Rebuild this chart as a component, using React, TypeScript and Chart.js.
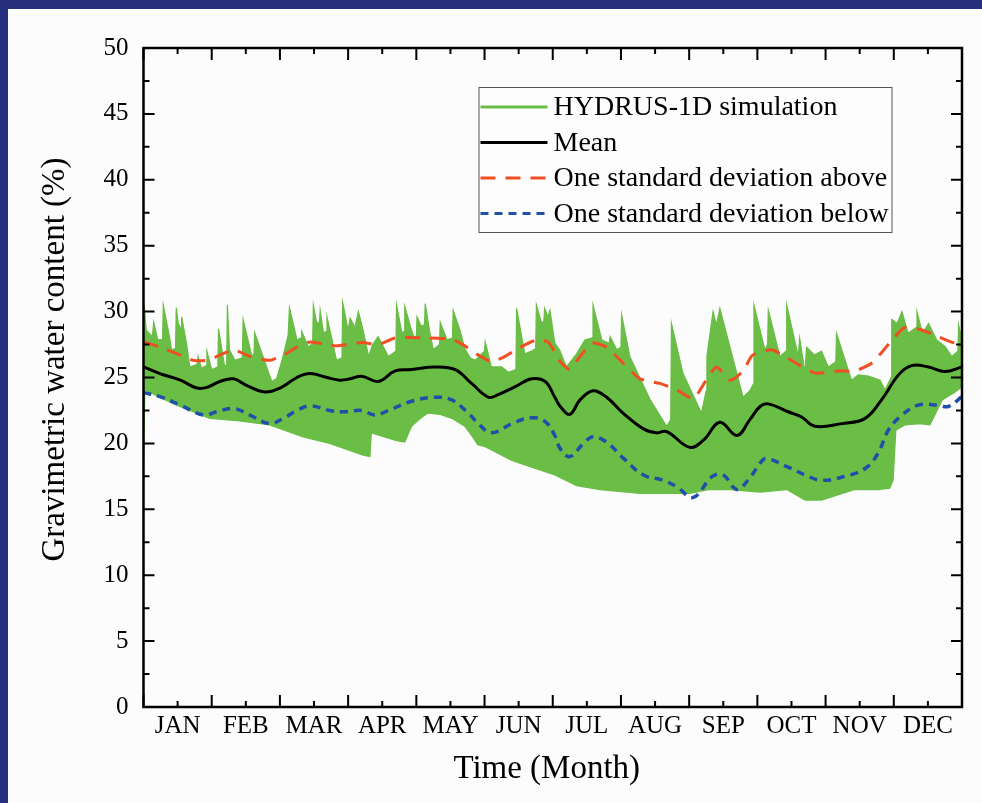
import React, { useEffect, useRef } from 'react';
import { Chart, registerables } from 'chart.js';

Chart.register(...registerables);

const FONT = "'Liberation Serif', 'Times New Roman', serif";

const monthLabels = ['JAN', 'FEB', 'MAR', 'APR', 'MAY', 'JUN', 'JUL', 'AUG', 'SEP', 'OCT', 'NOV', 'DEC'];

// x = month (0 = 1 Jan, 12 = 31 Dec), y = gravimetric water content (%)
const simUpper: [number, number][] = [
  [0.00, 29.1], [0.01, 30.5], [0.04, 28.6], [0.13, 28.1], [0.15, 29.2], [0.21, 27.85], [0.28, 27.9], [0.29, 30.5],
  [0.39, 27.85], [0.41, 27.1], [0.47, 27.2], [0.48, 30.3], [0.51, 29.1], [0.55, 28.7], [0.56, 29.6], [0.63, 27.6],
  [0.68, 25.8], [0.79, 26.0], [0.80, 26.6], [0.85, 25.7], [0.92, 25.9], [0.93, 27.0], [1.00, 25.6], [1.09, 25.8],
  [1.10, 28.7], [1.19, 25.8], [1.22, 26.0], [1.23, 30.5], [1.26, 27.1], [1.34, 26.3], [1.45, 26.5], [1.46, 29.4],
  [1.59, 26.6], [1.62, 26.8], [1.63, 28.4], [1.88, 24.7], [1.95, 24.9], [2.03, 26.3], [2.12, 28.2], [2.14, 30.3],
  [2.25, 27.85], [2.31, 28.0], [2.32, 28.5], [2.42, 27.3], [2.48, 27.6], [2.49, 30.5], [2.54, 29.1], [2.58, 29.2],
  [2.59, 30.1], [2.64, 28.35], [2.68, 28.5], [2.69, 29.6], [2.83, 26.3], [2.91, 26.5], [2.92, 30.7], [3.00, 28.6],
  [3.03, 29.5], [3.10, 28.8], [3.15, 30.0], [3.22, 28.6], [3.30, 26.6], [3.36, 27.5], [3.44, 28.1], [3.52, 27.3],
  [3.59, 26.6], [3.70, 27.0], [3.71, 30.5], [3.79, 28.35], [3.82, 28.5], [3.83, 30.4], [3.93, 28.6], [3.98, 27.85],
  [4.00, 28.2], [4.01, 29.6], [4.07, 28.9], [4.12, 29.0], [4.13, 30.6], [4.20, 28.35], [4.25, 27.1], [4.34, 27.5],
  [4.35, 29.2], [4.45, 27.85], [4.53, 28.0], [4.54, 30.1], [4.64, 28.6], [4.71, 27.2], [4.79, 26.5], [4.86, 26.3],
  [5.00, 27.0], [5.01, 27.7], [5.10, 25.8], [5.25, 25.8], [5.35, 25.4], [5.46, 25.6], [5.47, 30.25], [5.59, 26.8],
  [5.69, 27.0], [5.75, 27.2], [5.76, 30.5], [5.84, 29.1], [5.87, 29.3], [5.88, 30.25], [5.93, 29.6], [5.96, 30.1],
  [6.03, 27.6], [6.10, 27.1], [6.20, 25.8], [6.35, 26.8], [6.47, 27.85], [6.58, 28.0], [6.59, 30.5], [6.72, 27.85],
  [6.83, 27.6], [6.84, 28.1], [6.94, 27.1], [7.00, 27.3], [7.01, 29.75], [7.13, 26.6], [7.43, 23.3], [7.67, 21.3],
  [7.73, 21.8], [7.74, 29.1], [7.91, 25.3], [8.18, 22.3], [8.25, 24.0], [8.26, 26.6], [8.35, 30.0], [8.40, 29.0],
  [8.45, 30.25], [8.79, 23.5], [8.89, 24.0], [8.94, 24.5], [8.95, 30.5], [9.11, 27.1], [9.15, 27.5], [9.16, 30.1],
  [9.33, 26.6], [9.42, 27.0], [9.43, 30.5], [9.60, 26.6], [9.62, 28.0], [9.70, 25.3], [9.72, 27.3], [9.84, 26.7],
  [9.94, 27.0], [10.04, 25.8], [10.15, 26.2], [10.16, 28.35], [10.38, 24.8], [10.48, 25.2], [10.63, 25.1], [10.80, 24.8],
  [10.87, 24.05], [10.96, 25.0], [10.97, 29.4], [11.05, 29.1], [11.12, 30.0], [11.21, 28.35], [11.33, 28.8], [11.34, 30.0],
  [11.42, 28.35], [11.51, 29.1], [11.63, 27.85], [11.75, 27.35], [11.85, 26.6], [11.94, 27.0], [11.95, 29.0], [12.00, 27.85],
];

const simLower: [number, number][] = [
  [0.00, 18.6], [0.02, 24.05], [0.44, 23.0], [0.78, 22.3], [0.97, 21.9], [1.41, 21.7], [1.85, 21.4], [2.34, 20.5],
  [2.73, 20.0], [3.22, 19.1], [3.32, 19.0], [3.34, 20.8], [3.71, 20.2], [3.83, 20.1], [3.93, 21.3], [4.06, 21.9],
  [4.17, 22.3], [4.35, 22.2], [4.52, 21.9], [4.71, 21.3], [4.81, 20.6], [4.90, 19.9], [5.01, 19.75], [5.40, 18.7],
  [6.03, 17.6], [6.35, 16.8], [6.69, 16.5], [7.28, 16.2], [8.01, 16.2], [8.30, 16.5], [8.60, 16.5], [9.04, 16.3],
  [9.43, 16.5], [9.70, 15.7], [9.94, 15.7], [10.43, 16.5], [10.77, 16.5], [10.94, 16.6], [10.99, 17.2], [11.03, 21.0],
  [11.16, 21.4], [11.38, 21.5], [11.53, 21.4], [11.71, 23.3], [11.90, 23.9], [12.00, 24.3],
];

const meanLine: [number, number][] = [
  [0.00, 25.8], [0.24, 25.3], [0.54, 24.8], [0.78, 24.2], [0.93, 24.25], [1.12, 24.7], [1.32, 24.9], [1.51, 24.4],
  [1.78, 23.9], [2.00, 24.2], [2.25, 25.0], [2.44, 25.3], [2.69, 25.0], [2.88, 24.8], [3.03, 24.9], [3.20, 25.1],
  [3.44, 24.7], [3.69, 25.5], [3.93, 25.6], [4.27, 25.8], [4.57, 25.6], [4.81, 24.55], [5.06, 23.5], [5.20, 23.7],
  [5.45, 24.3], [5.69, 24.9], [5.89, 24.7], [6.03, 23.5], [6.11, 22.8], [6.25, 22.2], [6.40, 23.3], [6.59, 24.0],
  [6.79, 23.5], [7.03, 22.3], [7.33, 21.1], [7.52, 20.8], [7.67, 20.9], [8.01, 19.7], [8.21, 20.25], [8.45, 21.6],
  [8.70, 20.6], [8.89, 21.8], [9.04, 22.8], [9.16, 23.0], [9.45, 22.4], [9.65, 22.0], [9.84, 21.3], [10.24, 21.5],
  [10.58, 21.9], [10.82, 23.3], [11.07, 25.2], [11.26, 25.9], [11.51, 25.8], [11.75, 25.45], [12.00, 25.8],
];

const sdAbove: [number, number][] = [
  [0.00, 27.7], [0.24, 27.3], [0.54, 26.7], [0.73, 26.3], [0.93, 26.3], [1.12, 26.7], [1.32, 27.1], [1.56, 26.6],
  [1.85, 26.3], [2.05, 26.7], [2.25, 27.3], [2.44, 27.7], [2.69, 27.5], [2.83, 27.4], [3.20, 27.65], [3.44, 27.5],
  [3.69, 28.0], [4.18, 28.0], [4.52, 27.9], [4.71, 27.4], [4.91, 26.7], [5.10, 26.2], [5.30, 26.6], [5.49, 27.2],
  [5.74, 27.8], [5.93, 27.7], [6.11, 26.2], [6.25, 25.6], [6.40, 26.6], [6.59, 27.6], [6.79, 27.3], [7.03, 26.1],
  [7.28, 24.9], [7.57, 24.55], [7.82, 24.05], [8.06, 23.4], [8.26, 24.9], [8.40, 25.8], [8.60, 24.8], [8.79, 25.5],
  [8.93, 26.7], [9.21, 27.1], [9.45, 26.45], [9.84, 25.35], [10.19, 25.5], [10.43, 25.5], [10.68, 26.1], [10.92, 27.5],
  [11.16, 28.8], [11.41, 28.6], [11.65, 28.1], [11.90, 27.6], [12.00, 27.6],
];

const sdBelow: [number, number][] = [
  [0.00, 23.85], [0.24, 23.55], [0.54, 22.9], [0.88, 22.15], [1.07, 22.4], [1.32, 22.65], [1.56, 22.15], [1.85, 21.5],
  [2.05, 21.9], [2.25, 22.5], [2.44, 22.85], [2.73, 22.5], [2.95, 22.4], [3.20, 22.5], [3.39, 22.15], [3.59, 22.5],
  [3.93, 23.2], [4.27, 23.5], [4.52, 23.3], [4.76, 22.3], [4.91, 21.5], [5.10, 20.8], [5.40, 21.5], [5.69, 21.95],
  [5.89, 21.65], [6.03, 20.6], [6.11, 19.6], [6.25, 19.0], [6.45, 20.0], [6.59, 20.5], [6.79, 20.1], [7.03, 18.9],
  [7.33, 17.6], [7.62, 17.2], [7.82, 16.7], [8.06, 15.9], [8.34, 17.5], [8.50, 17.6], [8.70, 16.5], [8.89, 17.4],
  [9.04, 18.5], [9.13, 18.85], [9.45, 18.2], [9.70, 17.6], [9.94, 17.2], [10.28, 17.5], [10.58, 18.1], [10.77, 19.25],
  [10.92, 21.0], [11.12, 22.15], [11.36, 22.9], [11.65, 22.9], [11.80, 22.8], [12.00, 23.55],
];

const GREEN = '#6abd45';
const RED = '#f04e23';
const BLUE = '#1f4fa8';
const NAVY = '#26307f';

const toXY = (arr: [number, number][]) => arr.map(([x, y]) => ({ x, y }));

const decorPlugin = {
  id: 'decor',
  afterDatasetsDraw(chart: any) {
    const { ctx, chartArea: a, scales } = chart;
    const x = scales.x;
    const y = scales.y;
    ctx.save();
    ctx.strokeStyle = '#000';
    ctx.lineWidth = 2;
    ctx.beginPath();
    x.ticks.forEach((t: any) => {
      const px = x.getPixelForValue(t.value);
      const major = Math.abs(t.value - Math.round(t.value)) < 1e-6;
      const len = major ? 12 : 6;
      ctx.moveTo(px, a.bottom);
      ctx.lineTo(px, a.bottom - len);
      ctx.moveTo(px, a.top);
      ctx.lineTo(px, a.top + len);
    });
    const yt = y.ticks.map((t: any) => t.value);
    const yv: [number, boolean][] = [];
    for (let i = 0; i < yt.length; i++) {
      yv.push([yt[i], true]);
      if (i < yt.length - 1) yv.push([(yt[i] + yt[i + 1]) / 2, false]);
    }
    yv.forEach(([v, major]) => {
      const py = y.getPixelForValue(v);
      const len = major ? 11 : 6;
      ctx.moveTo(a.left, py);
      ctx.lineTo(a.left + len, py);
      ctx.moveTo(a.right, py);
      ctx.lineTo(a.right - len, py);
    });
    ctx.stroke();
    ctx.lineWidth = 2.5;
    ctx.strokeRect(a.left, a.top, a.right - a.left, a.bottom - a.top);
    ctx.restore();
  },
  afterDraw(chart: any) {
    const { ctx, chartArea: a } = chart;
    ctx.save();
    ctx.fillStyle = '#000';
    ctx.textAlign = 'center';
    ctx.textBaseline = 'middle';
    ctx.font = `33px ${FONT}`;
    ctx.fillText('Time (Month)', (a.left + a.right) / 2 - 6, a.bottom + 62);
    ctx.translate(47, (a.top + a.bottom) / 2 - 18);
    ctx.rotate(-Math.PI / 2);
    ctx.fillText('Gravimetric water content (%)', 0, 0);
    ctx.restore();

    // legend
    const items = chart.data.datasets.filter((d: any) => !String(d.label).startsWith('_'));
    const bx = a.left + 335;
    const by = a.top + 39;
    const bw = 413;
    const bh = 145;
    ctx.save();
    ctx.fillStyle = '#fdfdfd';
    ctx.fillRect(bx, by, bw, bh);
    ctx.strokeStyle = '#555';
    ctx.lineWidth = 1;
    ctx.strokeRect(bx + 0.5, by + 0.5, bw, bh);
    ctx.font = `28px ${FONT}`;
    ctx.textAlign = 'left';
    ctx.textBaseline = 'middle';
    items.forEach((d: any, i: number) => {
      const cy = by + 20 + i * 35.5;
      ctx.strokeStyle = d.borderColor;
      ctx.lineWidth = 3;
      ctx.setLineDash(d.borderDash || []);
      ctx.beginPath();
      ctx.moveTo(bx + 2, cy);
      ctx.lineTo(bx + 69, cy);
      ctx.stroke();
      ctx.setLineDash([]);
      ctx.fillStyle = '#000';
      ctx.fillText(d.label, bx + 75, cy + 1);
    });
    ctx.restore();
  },
};

export default function App() {
  const ref = useRef<HTMLCanvasElement | null>(null);
  useEffect(() => {
    if (!ref.current) return;
    const chart = new Chart(ref.current, {
      type: 'line',
      data: {
        datasets: [
          {
            label: 'HYDRUS-1D simulation',
            data: toXY(simUpper),
            borderColor: GREEN,
            backgroundColor: GREEN,
            borderWidth: 1.2,
            pointRadius: 0,
            tension: 0,
            fill: '+1',
            order: 10,
          },
          {
            label: '_lower',
            data: toXY(simLower),
            borderColor: GREEN,
            backgroundColor: GREEN,
            borderWidth: 1.2,
            pointRadius: 0,
            tension: 0,
            fill: false,
            order: 11,
          },
          {
            label: 'Mean',
            data: toXY(meanLine),
            borderColor: '#000',
            borderWidth: 3,
            pointRadius: 0,
            tension: 0.4,
            fill: false,
            order: 0,
          },
          {
            label: 'One standard deviation above',
            data: toXY(sdAbove),
            borderColor: RED,
            borderWidth: 3,
            borderDash: [15, 10],
            pointRadius: 0,
            tension: 0.2,
            fill: false,
            order: 2,
          },
          {
            label: 'One standard deviation below',
            data: toXY(sdBelow),
            borderColor: BLUE,
            borderWidth: 3.5,
            borderDash: [8, 6],
            pointRadius: 0,
            tension: 0.4,
            fill: false,
            order: 1,
          },
        ],
      },
      options: {
        animation: false,
        responsive: false,
        events: [],
        layout: { padding: { top: 39, right: 20, left: 0, bottom: 0 } },
        plugins: { legend: { display: false }, tooltip: { enabled: false } },
        scales: {
          x: {
            type: 'linear',
            min: 0,
            max: 12,
            grid: { display: false, drawTicks: false },
            border: { display: false },
            afterFit: (s: any) => { s.height = 96; },
            ticks: {
              stepSize: 0.5,
              autoSkip: false,
              maxRotation: 0,
              minRotation: 0,
              padding: 4,
              color: '#000',
              font: { family: FONT, size: 25 },
              callback: (v: any) => {
                const k = Math.round(Number(v) * 2);
                return k % 2 === 1 ? monthLabels[(k - 1) / 2] : '';
              },
            },
          },
          y: {
            min: 0,
            max: 50,
            grid: { display: false, drawTicks: false },
            border: { display: false },
            afterFit: (s: any) => { s.width = 135.5; },
            ticks: {
              stepSize: 5,
              padding: 15,
              color: '#000',
              font: { family: FONT, size: 25 },
            },
          },
        },
      },
      plugins: [decorPlugin],
    } as any);
    return () => chart.destroy();
  }, []);

  return (
    <div style={{ position: 'absolute', left: 0, top: 0, width: 982, height: 803, background: NAVY, overflow: 'hidden' }}>
      <div style={{ position: 'absolute', left: 8, top: 9, width: 974, height: 794, background: '#fcfcfc' }}>
        <canvas ref={ref} width={974} height={794} style={{ display: 'block' }} />
      </div>
    </div>
  );
}
